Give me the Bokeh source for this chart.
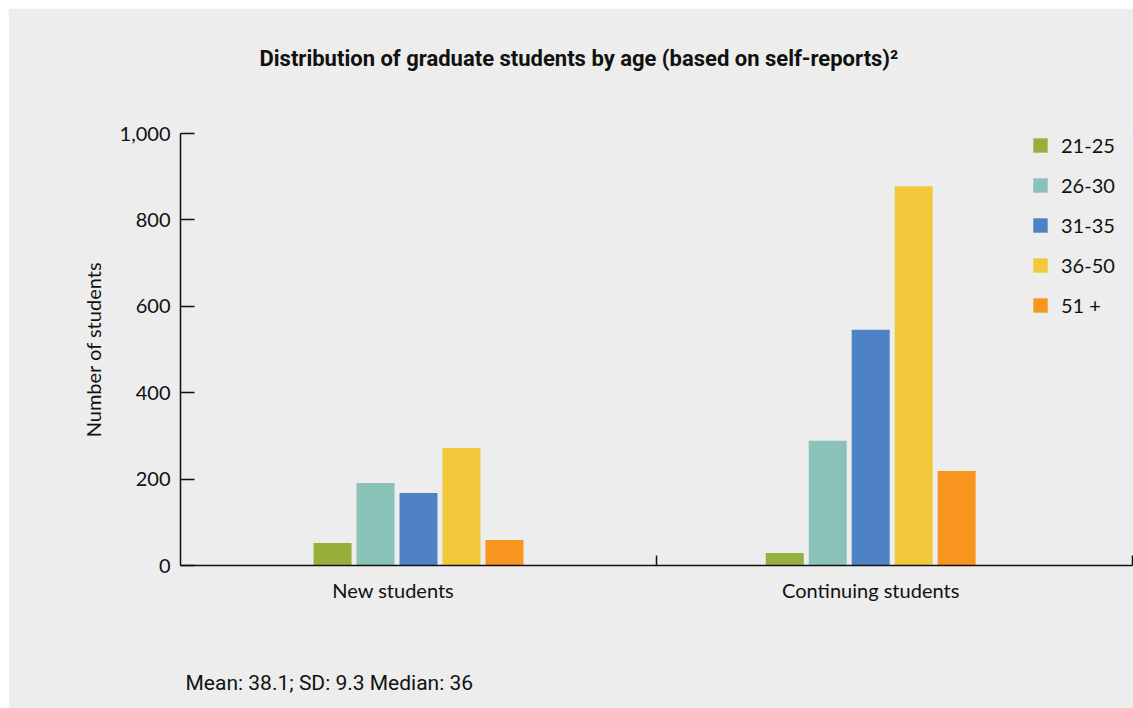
from bokeh.plotting import figure
from bokeh.models import (ColumnDataSource, Range1d, FixedTicker, NumeralTickFormatter,
                          Legend, LegendItem, Title)
from bokeh.embed import file_html
from bokeh.resources import INLINE

# ---- data ----
groups = ["New students", "Continuing students"]
age_bins = ["21-25", "26-30", "31-35", "36-50", "51 +"]
new_students = [52, 191, 168, 272, 59]
continuing_students = [29, 289, 546, 878, 219]
y_ticks = [0, 200, 400, 600, 800, 1000]
title_text = "Distribution of graduate students by age (based on self-reports)\u00b2"
footnote_text = "Mean: 38.1; SD: 9.3 Median: 36"

# ---- style / layout ----
colors = ["#97B03C", "#8BC2B8", "#4F82C4", "#F2C93A", "#F7951F"]
bg = "#ECEDEC"
group_pos = [0.5, 1.45]
label_pos = [0.447, 1.45]
bar_step = 0.0903
bar_w = 0.0798
FONT = "Lato"
TFONT = "Roboto"

p = figure(width=1125, height=700, output_backend="svg", toolbar_location=None,
           x_range=Range1d(0, 2), y_range=Range1d(0, 1000),
           min_border_left=172, min_border_right=1, min_border_top=125, min_border_bottom=143)
p.margin = (8, 0, 0, 8)
p.background_fill_color = bg
p.border_fill_color = bg
p.outline_line_color = None
p.grid.visible = False

items = []
for i, (lab, col) in enumerate(zip(age_bins, colors)):
    off = (i - 2) * bar_step
    src = ColumnDataSource(dict(x=[g + off for g in group_pos],
                                top=[new_students[i], continuing_students[i]]))
    r = p.vbar(x="x", top="top", width=bar_w, bottom=0, source=src, color=col, line_color=None)
    items.append(LegendItem(label=lab, renderers=[r]))

legend = Legend(items=items, location=(851, 248), padding=0, margin=0, spacing=16,
                glyph_width=18, glyph_height=18, label_height=18, label_standoff=12,
                background_fill_alpha=0, border_line_color=None,
                label_text_font=FONT, label_text_font_size="20px", label_text_color="#111111")
p.add_layout(legend)

# y axis
ya = p.yaxis[0]
ya.ticker = FixedTicker(ticks=y_ticks)
ya.formatter = NumeralTickFormatter(format="0,0")
ya.major_tick_in = 14
ya.major_tick_out = 0
ya.minor_tick_line_color = None
ya.axis_line_width = 1.5
ya.axis_line_color = "#111111"
ya.major_tick_line_color = "#111111"
ya.major_tick_line_width = 1.5
ya.major_label_standoff = 10
ya.major_label_text_font = FONT
ya.major_label_text_font_size = "20px"
ya.major_label_text_color = "#111111"
ya.axis_label = "Number of students"
ya.axis_label_text_font = FONT
ya.axis_label_text_font_size = "20px"
ya.axis_label_text_font_style = "normal"
ya.axis_label_text_color = "#111111"
ya.axis_label_standoff = 12

# x axis
xa = p.xaxis[0]
xa.ticker = FixedTicker(ticks=label_pos, minor_ticks=[1, 2])
xa.major_label_overrides = {label_pos[0]: groups[0], label_pos[1]: groups[1]}
xa.major_tick_in = 0
xa.major_tick_out = 0
xa.minor_tick_in = 10
xa.minor_tick_out = 0
xa.minor_tick_line_color = "#111111"
xa.minor_tick_line_width = 1.5
xa.axis_line_width = 1.5
xa.axis_line_color = "#111111"
xa.major_label_standoff = 12
xa.major_label_text_font = FONT
xa.major_label_text_font_size = "20px"
xa.major_label_text_color = "#111111"

# spacer above (between frame and title) and the title itself (outermost)
p.add_layout(Title(text=" ", text_font_size="1px", standoff=60), "above")
p.title = Title(text=title_text, align="left", offset=79, standoff=0,
                text_font=TFONT, text_font_size="22px",
                text_font_style="bold", text_color="#111111")

# spacer below the x axis, then the footnote
p.add_layout(Title(text=" ", text_font_size="1px", standoff=61), "below")
foot = Title(text=footnote_text, align="left", offset=5, standoff=0,
             text_font=TFONT, text_font_size="21px",
             text_font_style="normal", text_color="#111111")
p.add_layout(foot, "below")

open("out.html", "w").write(file_html(p, INLINE))
